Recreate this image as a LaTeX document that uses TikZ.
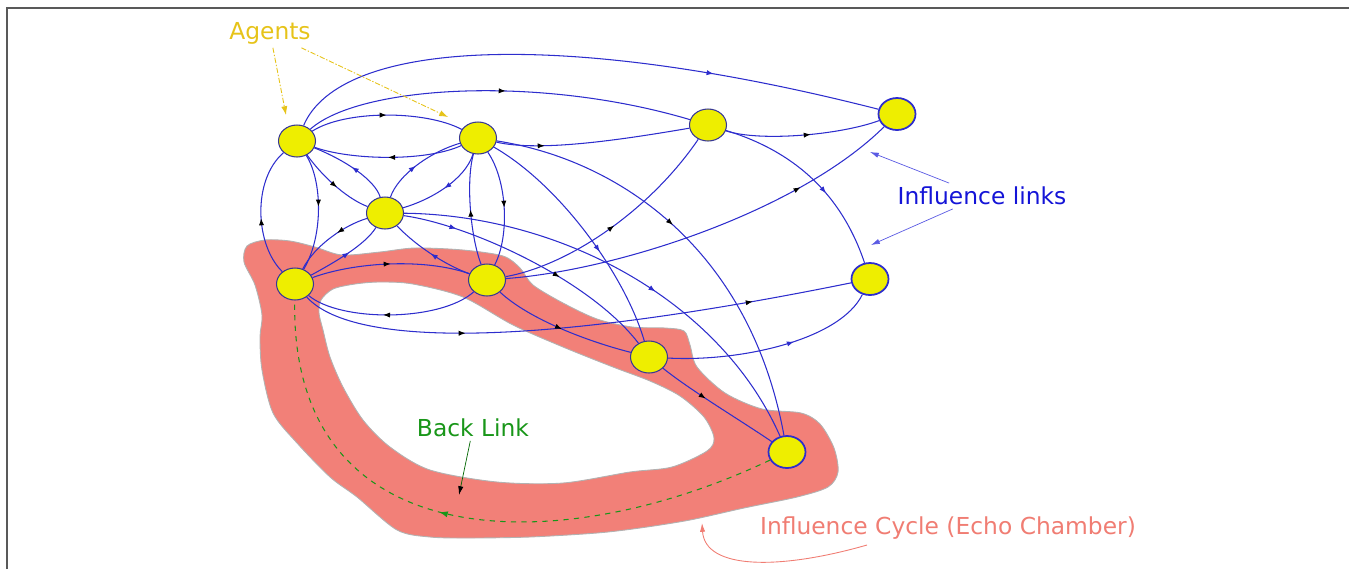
\documentclass[tikz,border=0pt]{standalone}
\usepackage{fontspec}
\setmainfont{DejaVu Sans}
\usetikzlibrary{positioning,shapes.geometric,arrows.meta,decorations.markings}

\definecolor{agentyellow}{RGB}{238,238,0}
\definecolor{linkblue}{RGB}{45,45,205}
\definecolor{rimblue}{RGB}{55,55,150}
\definecolor{echored}{RGB}{242,128,120}
\definecolor{labelgold}{RGB}{230,195,25}
\definecolor{labelblue}{RGB}{20,20,215}
\definecolor{labelgreen}{RGB}{25,150,25}
\definecolor{labelsalmon}{RGB}{240,125,115}

\tikzset{
  agent/.style={ellipse, draw=rimblue, line width=0.6pt, fill=agentyellow,
    minimum width=0.74cm, minimum height=0.64cm, inner sep=0pt},
  agentstrong/.style={agent, draw=linkblue, line width=1pt},
  link/.style={draw=linkblue, line width=0.6pt},
  midarr/.style={postaction={decorate, decoration={markings,
    mark=at position #1 with {\arrow[black]{Latex[length=4pt,width=3pt]}}}}},
  midarrb/.style={postaction={decorate, decoration={markings,
    mark=at position #1 with {\arrow[linkblue]{Latex[length=4pt,width=3pt]}}}}},
  lbl/.style={font=\fontsize{13.3}{16}\selectfont, inner sep=2pt},
  agentptr/.style={draw=labelgold, line width=0.5pt,
    dash pattern=on 3pt off 1pt on 0.8pt off 1pt, -{Latex[length=5pt,width=3.5pt]}},
  linkptr/.style={draw=labelblue!70, line width=0.4pt, -{Latex[length=5pt,width=3pt]}},
}

\begin{document}
\begin{tikzpicture}[x=0.02cm, y=-0.02cm]
\useasboundingbox (0,0) rectangle (1349,569);
% frame
\draw[gray!70!black, line width=1pt] (7,569) -- (7,8) -- (1349,8);

% echo chamber band
\path[fill=echored, draw=gray!60, line width=0.5pt, even odd rule]
  plot[smooth cycle] coordinates {(244,262) (247,246) (265,240) (290,241) (315,247)
    (342,255) (380,252) (415,248) (463,250) (503,256) (520,268) (533,285) (563,303)
    (597,319) (632,327) (665,328) (684,331) (690,345) (697,367) (725,393) (762,409)
    (801,413) (820,424) (834,448) (838,472) (828,487) (797,497) (744,508) (690,520)
    (640,528) (597,533) (530,537) (470,538) (430,537) (397,530) (357,497) (330,477)
    (297,443) (273,413) (262,370) (260,337) (262,315) (255,285)}
  plot[smooth cycle] coordinates {(321,300) (333,289) (355,284) (380,282) (413,284)
    (463,297) (513,325) (563,347) (613,367) (650,381) (680,396) (704,417) (714,438)
    (707,451) (672,467) (630,472) (563,483) (497,482) (430,470) (390,447) (363,420)
    (343,387) (330,357) (323,330) (319,313)};

% agents
\node[agent] (A) at (297,141) {};
\node[agent] (B) at (478,138) {};
\node[agent] (C) at (708,125) {};
\node[agentstrong] (D) at (897,114) {};
\node[agent] (E) at (385,213) {};
\node[agent] (F) at (295,284) {};
\node[agent] (G) at (487,280) {};
\node[agentstrong] (H) at (870,279) {};
\node[agent] (I) at (649,357) {};
\node[agentstrong] (J) at (787,452) {};

% influence links
\draw[link, midarrb=0.72] (A) .. controls (340,40) and (560,28) .. (D);
\draw[link, midarr=0.52] (A) .. controls (360,85) and (540,75) .. (C);
\draw[link, midarr=0.5] (A) .. controls (345,110) and (425,110) .. (B);
\draw[link, midarr=0.5] (B) .. controls (425,162) and (350,160) .. (A);
\draw[link, midarr=0.45] (F) .. controls (255,245) and (252,180) .. (A);
\draw[link, midarr=0.45] (A) .. controls (322,180) and (324,235) .. (F);
\draw[link, midarr=0.55] (A) .. controls (325,180) and (350,200) .. (E);
\draw[link, midarrb=0.5] (E) .. controls (375,180) and (345,160) .. (A);
\draw[link, midarrb=0.45] (E) .. controls (398,175) and (430,152) .. (B);
\draw[link, midarrb=0.5] (B) .. controls (465,180) and (430,200) .. (E);
\draw[link, midarr=0.4] (E) .. controls (345,225) and (315,245) .. (F);
\draw[link, midarrb=0.55] (F) .. controls (335,262) and (365,245) .. (E);
\draw[link, midarrb=0.5] (G) .. controls (445,265) and (415,245) .. (E);
\draw[link, midarr=0.5] (G) .. controls (470,235) and (466,180) .. (B);
\draw[link, midarr=0.5] (B) .. controls (507,180) and (510,235) .. (G);
\draw[link, midarr=0.5] (F) .. controls (355,262) and (425,258) .. (G);
\draw[link, midarr=0.55] (G) .. controls (440,322) and (340,322) .. (F);
\draw[link, midarr=0.3, midarr=0.82] (F) .. controls (350,345) and (520,350) .. (H);
\draw[link, midarr=0.5] (G) .. controls (570,265) and (650,210) .. (C);
\draw[link, midarr=0.75] (G) .. controls (620,270) and (800,210) .. (D);
\draw[link, midarr=0.5] (G) .. controls (530,320) and (590,342) .. (I);
\draw[link, midarrb=0.2, midarr=0.62] (E) .. controls (470,225) and (590,280) .. (I);
\draw[link, midarrb=0.58] (E) .. controls (560,215) and (720,300) .. (J);
\draw[link, midarrb=0.6] (B) .. controls (560,185) and (625,275) .. (I);
\draw[link, midarr=0.45] (B) .. controls (620,160) and (750,250) .. (J);
\draw[link, midarr=0.25] (B) .. controls (540,152) and (620,140) .. (C);
\draw[link, midarr=0.55] (C) .. controls (760,142) and (840,135) .. (D);
\draw[link, midarrb=0.6] (C) .. controls (790,150) and (840,190) .. (H);
\draw[link, midarrb=0.6] (I) .. controls (740,362) and (840,340) .. (H);
\draw[link, midarr=0.4] (I) .. controls (690,390) and (740,420) .. (J);

% back link
\draw[draw=labelgreen, line width=0.6pt, dashed,
  postaction={decorate, decoration={markings,
    mark=at position 0.55 with {\arrow[labelgreen]{Latex[length=5pt,width=3.5pt]}}}}]
  (J) .. controls (560,560) and (290,560) .. (F);

% labels
\node[lbl, text=labelgold] (agents) at (270,33) {Agents};
\node[lbl, text=labelblue] (inflinks) at (982,196) {Influence links};
\node[lbl, text=labelgreen] (backlbl) at (473,428) {Back Link};
\node[lbl, text=labelsalmon] (cyclelbl) at (948,528) {Influence Cycle (Echo Chamber)};

% pointers
\coordinate (agtipA) at (286,115);
\coordinate (agtipB) at (448,117);
\draw[agentptr] (agents) -- (agtipA);
\draw[agentptr] (agents) -- (agtipB);
\coordinate (lktop) at (870,152);
\coordinate (lkbot) at (871,245);
\draw[linkptr] (inflinks) -- (lktop);
\draw[linkptr] (inflinks) -- (lkbot);
\coordinate (bltip) at (459,495);
\draw[draw=green!40!black, line width=0.4pt, -{Latex[length=5pt,width=3pt,color=black]}]
  (backlbl) -- (bltip);
\coordinate (cycstart) at (867,545);
\coordinate (cyctip) at (702,523);
\draw[draw=labelsalmon, line width=0.5pt, -{Latex[length=5pt,width=3pt]}]
  (cycstart) .. controls (780,570) and (705,570) .. (cyctip);
\end{tikzpicture}
\end{document}
